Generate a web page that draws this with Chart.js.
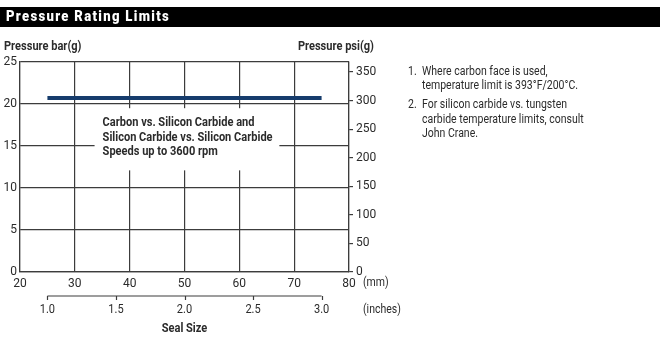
<!DOCTYPE html>
<html>
<head>
<meta charset="utf-8">
<script src="https://cdn.jsdelivr.net/npm/chart.js@4.4.1/dist/chart.umd.min.js"></script>
<style>
  html, body { margin: 0; padding: 0; background: #fff; }
  #wrap { width: 660px; height: 339px; position: relative; }
</style>
</head>
<body>
<div id="wrap"><canvas id="pressureChart" width="660" height="339"></canvas></div>
<script>
// Seal size range covered (mm) and pressure limit (bar)
const sealSizeMm = [25, 75];
const pressureBar = [20.7, 20.7];

// Tick values
const barTicks = [0, 5, 10, 15, 20, 25];
const mmTicks = [20, 30, 40, 50, 60, 70, 80];
const psiTicks = [0, 50, 100, 150, 200, 250, 300, 350];
const inchTicks = [1.0, 1.5, 2.0, 2.5, 3.0];
const inchLabels = ['1.0', '1.5', '2.0', '2.5', '3.0'];

const boxLines = [
    'Carbon vs. Silicon Carbide and',
    'Silicon Carbide vs. Silicon Carbide',
    'Speeds up to 3600 rpm'
];
const notes = [
    ['1.', 'Where carbon face is used,'],
    ['', 'temperature limit is 393°F/200°C.'],
    ['2.', 'For silicon carbide vs. tungsten'],
    ['', 'carbide temperature limits, consult'],
    ['', 'John Crane.']
];

// the printed psi scale works out to about 14.7 psi per bar
const PSI_PER_BAR = 14.7;
const FONT = "Roboto, 'Liberation Sans', sans-serif";
const gridColor = '#3c3c3c';
const textColor = '#2b2b2b';

// inch value -> mm on the seal size axis
function inchToMm(v) {
    return 25 + (v - 1) * 25;
}

// the original uses a condensed face, so squeeze the text horizontally
function drawText(ctx, text, x, y, sx, align) {
    const w = ctx.measureText(text).width * sx;
    let left = x;
    if (align === 'center') left = x - w / 2;
    if (align === 'right') left = x - w;
    ctx.save();
    ctx.textAlign = 'left';
    ctx.translate(left, y);
    ctx.scale(sx, 1);
    ctx.fillText(text, 0, 0);
    ctx.restore();
}

const extrasPlugin = {
    id: 'extras',
    afterDraw(chart) {
        const ctx = chart.ctx;
        const x = chart.scales.x;
        const y = chart.scales.y;
        ctx.save();
        ctx.textBaseline = 'middle';

        // header bar
        ctx.fillStyle = '#000';
        ctx.fillRect(0, 7, 660, 20);
        ctx.fillStyle = '#fff';
        ctx.font = "900 15px " + FONT;
        ctx.letterSpacing = '1.5px';
        const hw = ctx.measureText('Pressure Rating Limits').width;
        drawText(ctx, 'Pressure Rating Limits', 6, 17.5, 164 / hw, 'left');
        ctx.letterSpacing = '0px';

        // squeeze factors taken from one line of each weight
        ctx.font = 'bold 12px ' + FONT;
        const sxBold = 170 / ctx.measureText(boxLines[1]).width;
        ctx.font = '12px ' + FONT;
        const sxReg = 156 / ctx.measureText(notes[1][1]).width;

        // axis titles
        ctx.fillStyle = textColor;
        ctx.font = 'bold 12px ' + FONT;
        drawText(ctx, 'Pressure bar(g)', 4, 47, sxBold, 'left');
        drawText(ctx, 'Pressure psi(g)', 374, 47, sxBold, 'right');

        // white label box over the grid
        const bx = x.getPixelForValue(33.6);
        const bw = x.getPixelForValue(67.3) - bx;
        const by = y.getPixelForValue(19.5);
        const bh = y.getPixelForValue(12.1) - by;
        ctx.fillStyle = '#fff';
        ctx.fillRect(bx, by, bw, bh);
        ctx.fillStyle = textColor;
        boxLines.forEach((line, i) => {
            drawText(ctx, line, bx + 8, by + 15 + i * 14.5, sxBold, 'left');
        });

        // unit label on the mm axis
        ctx.font = '12px ' + FONT;
        drawText(ctx, '(mm)', 363, 283, sxReg, 'left');

        // inches axis
        const iy = 296;
        const x0 = x.getPixelForValue(inchToMm(inchTicks[0]));
        const x1 = x.getPixelForValue(inchToMm(inchTicks[inchTicks.length - 1]));
        ctx.strokeStyle = gridColor;
        ctx.lineWidth = 1.2;
        ctx.beginPath();
        ctx.moveTo(x0, iy);
        ctx.lineTo(x1, iy);
        inchTicks.forEach(v => {
            const px = Math.round(x.getPixelForValue(inchToMm(v))) + 0.5;
            ctx.moveTo(px, iy);
            ctx.lineTo(px, iy + 4);
        });
        ctx.stroke();
        inchTicks.forEach((v, i) => {
            drawText(ctx, inchLabels[i], x.getPixelForValue(inchToMm(v)), 310, 0.92, 'center');
        });
        drawText(ctx, '(inches)', 363, 310, sxReg, 'left');

        // axis title
        ctx.font = 'bold 12px ' + FONT;
        drawText(ctx, 'Seal Size', x.getPixelForValue(50), 329, sxBold, 'center');

        // notes
        ctx.font = '12px ' + FONT;
        const noteY = [72, 86, 105, 119.5, 134];
        notes.forEach((n, i) => {
            if (n[0]) drawText(ctx, n[0], 408, noteY[i], sxReg, 'left');
            drawText(ctx, n[1], 422, noteY[i], sxReg, 'left');
        });

        ctx.restore();
    }
};

const ctx = document.getElementById('pressureChart').getContext('2d');
new Chart(ctx, {
    type: 'line',
    data: {
        datasets: [{
            data: sealSizeMm.map((v, i) => ({ x: v, y: pressureBar[i] })),
            borderColor: '#163c6c',
            borderWidth: 4,
            borderCapStyle: 'butt',
            pointRadius: 0,
            fill: false,
            yAxisID: 'y'
        }]
    },
    options: {
        responsive: false,
        animation: false,
        events: [],
        layout: {
            padding: { top: 62, left: 0, right: 271, bottom: 47 }
        },
        plugins: {
            legend: { display: false },
            title: { display: false },
            tooltip: { enabled: false }
        },
        scales: {
            x: {
                type: 'linear',
                min: 20,
                max: 80,
                afterFit: s => { s.height = 20; },
                afterBuildTicks: s => { s.ticks = mmTicks.map(v => ({ value: v })); },
                grid: { color: gridColor, lineWidth: 1.2, drawTicks: false },
                border: { display: true, color: gridColor, width: 1.2 },
                ticks: {
                    padding: 5,
                    color: textColor,
                    font: { family: FONT, size: 12 },
                    maxRotation: 0
                }
            },
            y: {
                position: 'left',
                min: 0,
                max: 25,
                afterFit: s => { s.width = 20; },
                afterBuildTicks: s => { s.ticks = barTicks.map(v => ({ value: v })); },
                grid: { color: gridColor, lineWidth: 1.2, drawTicks: false },
                border: { display: true, color: gridColor, width: 1.2 },
                ticks: {
                    padding: 3,
                    color: textColor,
                    font: { family: FONT, size: 12 }
                }
            },
            y2: {
                position: 'right',
                min: 0,
                max: 25 * PSI_PER_BAR,
                afterFit: s => { s.width = 40; },
                afterBuildTicks: s => { s.ticks = psiTicks.map(v => ({ value: v })); },
                grid: { drawOnChartArea: false, color: gridColor, lineWidth: 1.2, tickLength: 4 },
                border: { display: true, color: gridColor, width: 1.2 },
                ticks: {
                    padding: 3,
                    color: textColor,
                    font: { family: FONT, size: 12 }
                }
            }
        }
    },
    plugins: [extrasPlugin]
});
</script>
</body>
</html>
